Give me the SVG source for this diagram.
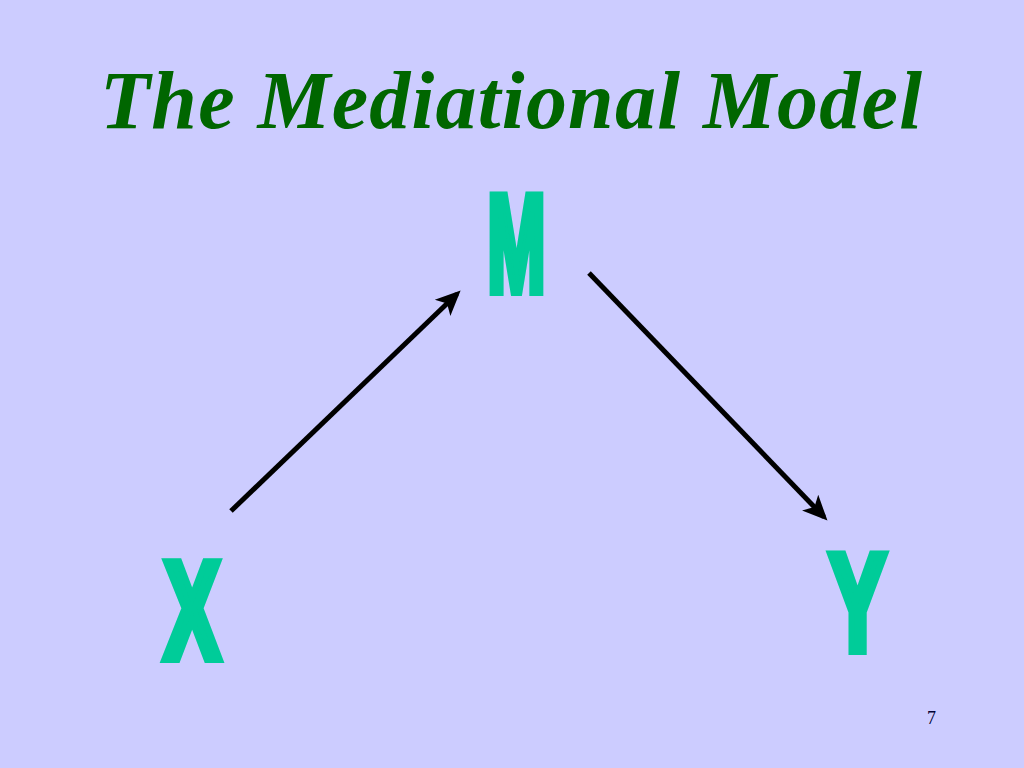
<svg xmlns="http://www.w3.org/2000/svg" width="1024" height="768" viewBox="0 0 1024 768">
<defs>
<style>
.title{font-family:"Liberation Serif","Times New Roman",serif;font-weight:bold;font-style:italic;font-size:82px;fill:#006600}
.var{font-family:"Liberation Sans",Arial,sans-serif;font-weight:bold;font-size:138px;fill:#00CC99;stroke:#00CC99;stroke-width:10;text-anchor:middle}
.num{font-family:"Liberation Serif","Times New Roman",serif;font-size:18px;fill:#000033}
.conn{stroke:#000;stroke-width:5;fill:none;marker-end:url(#ah)}
</style>
<marker id="ah" viewBox="0 0 10 10" refX="8" refY="5" markerWidth="5" markerHeight="5" orient="auto" markerUnits="strokeWidth">
<path d="M0,0.5 L10,5 L0,9.5 L2.5,5 Z" fill="#000"/>
</marker>
</defs>
<rect width="1024" height="768" fill="#CCCCFF"/>
<text class="title" x="100" y="128" textLength="822" lengthAdjust="spacing">The Mediational Model</text>
<g id="node-M"><text class="var" transform="translate(516.5,291) scale(0.504,1)">M</text></g>
<g id="node-X"><text class="var" transform="translate(192,658) scale(0.6,1)">X</text></g>
<g id="node-Y"><text class="var" transform="translate(857.5,650) scale(0.61,1)">Y</text></g>
<g id="connectors">
<line class="conn" x1="231" y1="511" x2="457" y2="294"/>
<line class="conn" x1="589" y1="273" x2="824" y2="517"/>
</g>
<text class="num" x="927" y="724">7</text>
</svg>
